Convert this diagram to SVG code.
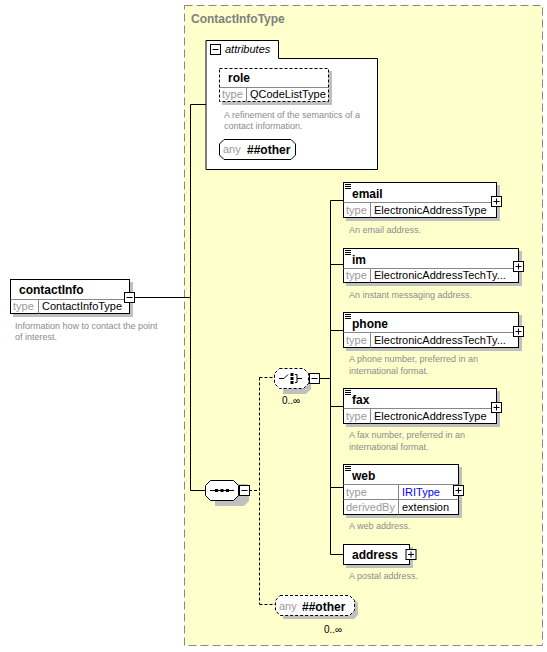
<svg xmlns="http://www.w3.org/2000/svg" width="547" height="652" viewBox="0 0 547 652">
<style>
text{font-family:"Liberation Sans",Arial,sans-serif}
.name{font-size:12px;font-weight:bold;fill:#000}
.lbl{font-size:11px;fill:#999}
.val{font-size:11px;fill:#000}
.desc{font-size:9px;fill:#8c8c8c}
.box{fill:#fff;stroke:#000;stroke-width:1}
.dbox{fill:#fff;stroke:#000;stroke-width:1;stroke-dasharray:3,2}
.sh{fill:#c0c0c0}
.div{stroke:#888;stroke-width:1}
.conn{stroke:#000;stroke-width:1;fill:none}
.dconn{stroke:#000;stroke-width:1;fill:none;stroke-dasharray:3,2}
.pm{fill:#fff;stroke:#000;stroke-width:1}
</style>
<defs>
<g id="plus"><rect class="pm" x="0" y="0" width="10" height="10"/><path d="M2 5H8M5 2V8" stroke="#000"/></g>
<g id="minus"><rect class="pm" x="0" y="0" width="10" height="10"/><path d="M2 5H8" stroke="#000"/></g>
<g id="elicon"><path d="M0 0.5H6M0 2.5H6M0 4.5H6" stroke="#000" stroke-width="1"/></g>
</defs>

<g id="ContactInfoType">
<rect x="184.5" y="5.5" width="358" height="640" fill="#ffffcc" stroke="#888" stroke-dasharray="8,4"/>
<text x="191" y="23" font-size="12" font-weight="bold" fill="#808080">ContactInfoType</text>
</g>

<g id="connectors">
<path class="conn" d="M134 297.5H190.5M190.5 104.5V490.5M190.5 104.5H206M190.5 490.5H206"/>
<path class="dconn" d="M249 490.5H259.5M259.5 377.5V604.5M259.5 377.5H275M259.5 604.5H276"/>
<path class="conn" d="M319 378.5H330.5M330.5 200.5V554.5M330.5 200.5H343M330.5 264.5H343M330.5 330.5H343M330.5 406.5H343M330.5 487.5H343M330.5 554.5H343"/>
</g>

<g id="attributes">
<path d="M206 169.5V40.5H278.5V58.5H377.5V169.5Z" fill="#fff" stroke="#000"/>
<use href="#minus" x="210.5" y="44.5"/>
<text x="225" y="53" font-size="11" font-style="italic" fill="#000">attributes</text>
</g>

<g id="role">
<rect class="sh" x="222" y="71" width="110" height="34"/>
<rect class="dbox" x="219.5" y="68.5" width="109" height="33"/>
<line class="div" x1="219.5" y1="87.5" x2="328.5" y2="87.5"/>
<line class="div" x1="246.5" y1="87.5" x2="246.5" y2="101.5"/>
<text class="name" x="228" y="82">role</text>
<text class="lbl" x="222" y="98">type</text>
<text class="val" x="250" y="98">QCodeListType</text>
<text class="desc" x="224" y="118">A refinement of the semantics of a</text>
<text class="desc" x="224" y="129">contact information.</text>
</g>

<g id="anyAttr">
<path d="M224 139.5H291L295.5 144V155L291 159.5H224L219.5 155V144Z" fill="#fff" stroke="#000"/>
<text class="lbl" x="223" y="153">any</text>
<text class="name" x="247" y="154">##other</text>
</g>

<g id="contactInfo">
<rect class="sh" x="13" y="282" width="120" height="35"/>
<rect class="box" x="10.5" y="279.5" width="119" height="34"/>
<line class="div" x1="10.5" y1="299.5" x2="129.5" y2="299.5"/>
<line class="div" x1="38.5" y1="299.5" x2="38.5" y2="313.5"/>
<text class="name" x="19" y="294">contactInfo</text>
<text class="lbl" x="13" y="310">type</text>
<text class="val" x="42" y="310">ContactInfoType</text>
<use href="#minus" x="124.5" y="292.5"/>
<text class="desc" x="15" y="329">Information how to contact the point</text>
<text class="desc" x="15" y="340">of interest.</text>
</g>

<g id="sequence">
<path d="M215 484H247L249 487V501L244 506H215Z" class="sh"/>
<path d="M210.5 480.5H233.5L238.5 485.5V495.5L233.5 500.5H210.5L205.5 495.5V485.5Z" fill="#fff" stroke="#000"/>
<path d="M210 490.5H234" stroke="#000"/>
<rect x="215" y="489" width="3" height="3" fill="#000"/><rect x="220.5" y="489" width="3" height="3" fill="#000"/><rect x="226" y="489" width="3" height="3" fill="#000"/>
<use href="#minus" x="239.5" y="485.5"/>
</g>

<g id="choice">
<path d="M283 372H307L311 376V389L306 394H283Z" class="sh"/>
<path d="M279.5 368.5H303.5L308.5 373.5V383.5L303.5 388.5H279.5L274.5 383.5V373.5Z" fill="#fff" stroke="#000" stroke-dasharray="3,2"/>
<path d="M279 378.5H284L288 374.5M295 374.5H297V382.5H295M297 378.5H302" stroke="#000" fill="none"/>
<rect x="290.5" y="373" width="3" height="3" fill="#000"/><rect x="290.5" y="377" width="3" height="3" fill="#000"/><rect x="290.5" y="381" width="3" height="3" fill="#000"/>
<use href="#minus" x="309.5" y="373.5"/>
<text x="282" y="404" font-size="10" fill="#000">0..∞</text>
</g>

<g id="email">
<rect class="sh" x="346" y="185" width="154" height="36"/>
<rect class="box" x="343.5" y="182.5" width="153" height="35"/>
<line class="div" x1="343.5" y1="202.5" x2="496.5" y2="202.5"/>
<line class="div" x1="370.5" y1="202.5" x2="370.5" y2="217.5"/>
<use href="#elicon" x="345" y="184"/>
<text class="name" x="352" y="198">email</text>
<text class="lbl" x="346" y="214">type</text>
<text class="val" x="374" y="214">ElectronicAddressType</text>
<use href="#plus" x="491.5" y="196.5"/>
<text class="desc" x="349" y="233">An email address.</text>
</g>

<g id="im">
<rect class="sh" x="346" y="251" width="176" height="35"/>
<rect class="box" x="343.5" y="248.5" width="175" height="34"/>
<line class="div" x1="343.5" y1="268.5" x2="518.5" y2="268.5"/>
<line class="div" x1="370.5" y1="268.5" x2="370.5" y2="282.5"/>
<use href="#elicon" x="345" y="250"/>
<text class="name" x="352" y="264">im</text>
<text class="lbl" x="346" y="279">type</text>
<text class="val" x="374" y="279">ElectronicAddressTechTy...</text>
<use href="#plus" x="513.5" y="261.5"/>
<text class="desc" x="349" y="298">An instant messaging address.</text>
</g>

<g id="phone">
<rect class="sh" x="346" y="315" width="176" height="36"/>
<rect class="box" x="343.5" y="312.5" width="175" height="35"/>
<line class="div" x1="343.5" y1="332.5" x2="518.5" y2="332.5"/>
<line class="div" x1="370.5" y1="332.5" x2="370.5" y2="347.5"/>
<use href="#elicon" x="345" y="314"/>
<text class="name" x="352" y="328">phone</text>
<text class="lbl" x="346" y="344">type</text>
<text class="val" x="374" y="344">ElectronicAddressTechTy...</text>
<use href="#plus" x="513.5" y="326.5"/>
<text class="desc" x="349" y="362">A phone number, preferred in an</text>
<text class="desc" x="349" y="374">international format.</text>
</g>

<g id="fax">
<rect class="sh" x="346" y="391" width="154" height="36"/>
<rect class="box" x="343.5" y="388.5" width="153" height="35"/>
<line class="div" x1="343.5" y1="408.5" x2="496.5" y2="408.5"/>
<line class="div" x1="370.5" y1="408.5" x2="370.5" y2="423.5"/>
<use href="#elicon" x="345" y="390"/>
<text class="name" x="352" y="404">fax</text>
<text class="lbl" x="346" y="420">type</text>
<text class="val" x="374" y="420">ElectronicAddressType</text>
<use href="#plus" x="491.5" y="402.5"/>
<text class="desc" x="349" y="438">A fax number, preferred in an</text>
<text class="desc" x="349" y="450">international format.</text>
</g>

<g id="web">
<rect class="sh" x="346" y="467" width="116" height="51"/>
<rect class="box" x="343.5" y="464.5" width="115" height="50"/>
<line class="div" x1="343.5" y1="484.5" x2="458.5" y2="484.5"/>
<line class="div" x1="343.5" y1="499.5" x2="458.5" y2="499.5"/>
<line class="div" x1="398.5" y1="484.5" x2="398.5" y2="514.5"/>
<use href="#elicon" x="345" y="466"/>
<text class="name" x="352" y="480">web</text>
<text class="lbl" x="346" y="496">type</text>
<text x="402" y="496" font-size="11" fill="#0000ff">IRIType</text>
<text class="lbl" x="346" y="511">derivedBy</text>
<text class="val" x="402" y="511">extension</text>
<use href="#plus" x="453.5" y="485.5"/>
<text class="desc" x="349" y="529">A web address.</text>
</g>

<g id="address">
<rect class="sh" x="346" y="547" width="67" height="21"/>
<rect class="box" x="343.5" y="544.5" width="66" height="20"/>
<text class="name" x="352" y="559">address</text>
<use href="#plus" x="406" y="549.5"/>
<text class="desc" x="349" y="579">A postal address.</text>
</g>

<g id="anyElement">
<path d="M283 599H354L358 603V615L354 619H283Z" class="sh"/>
<path d="M280 595.5H349.5L354.5 600.5V610.5L349.5 615.5H280L275.5 610.5V600.5Z" fill="#fff" stroke="#000" stroke-dasharray="3,2"/>
<text class="lbl" x="279" y="610">any</text>
<text class="name" x="302" y="611">##other</text>
<text x="324" y="633" font-size="10" fill="#000">0..∞</text>
</g>
</svg>
